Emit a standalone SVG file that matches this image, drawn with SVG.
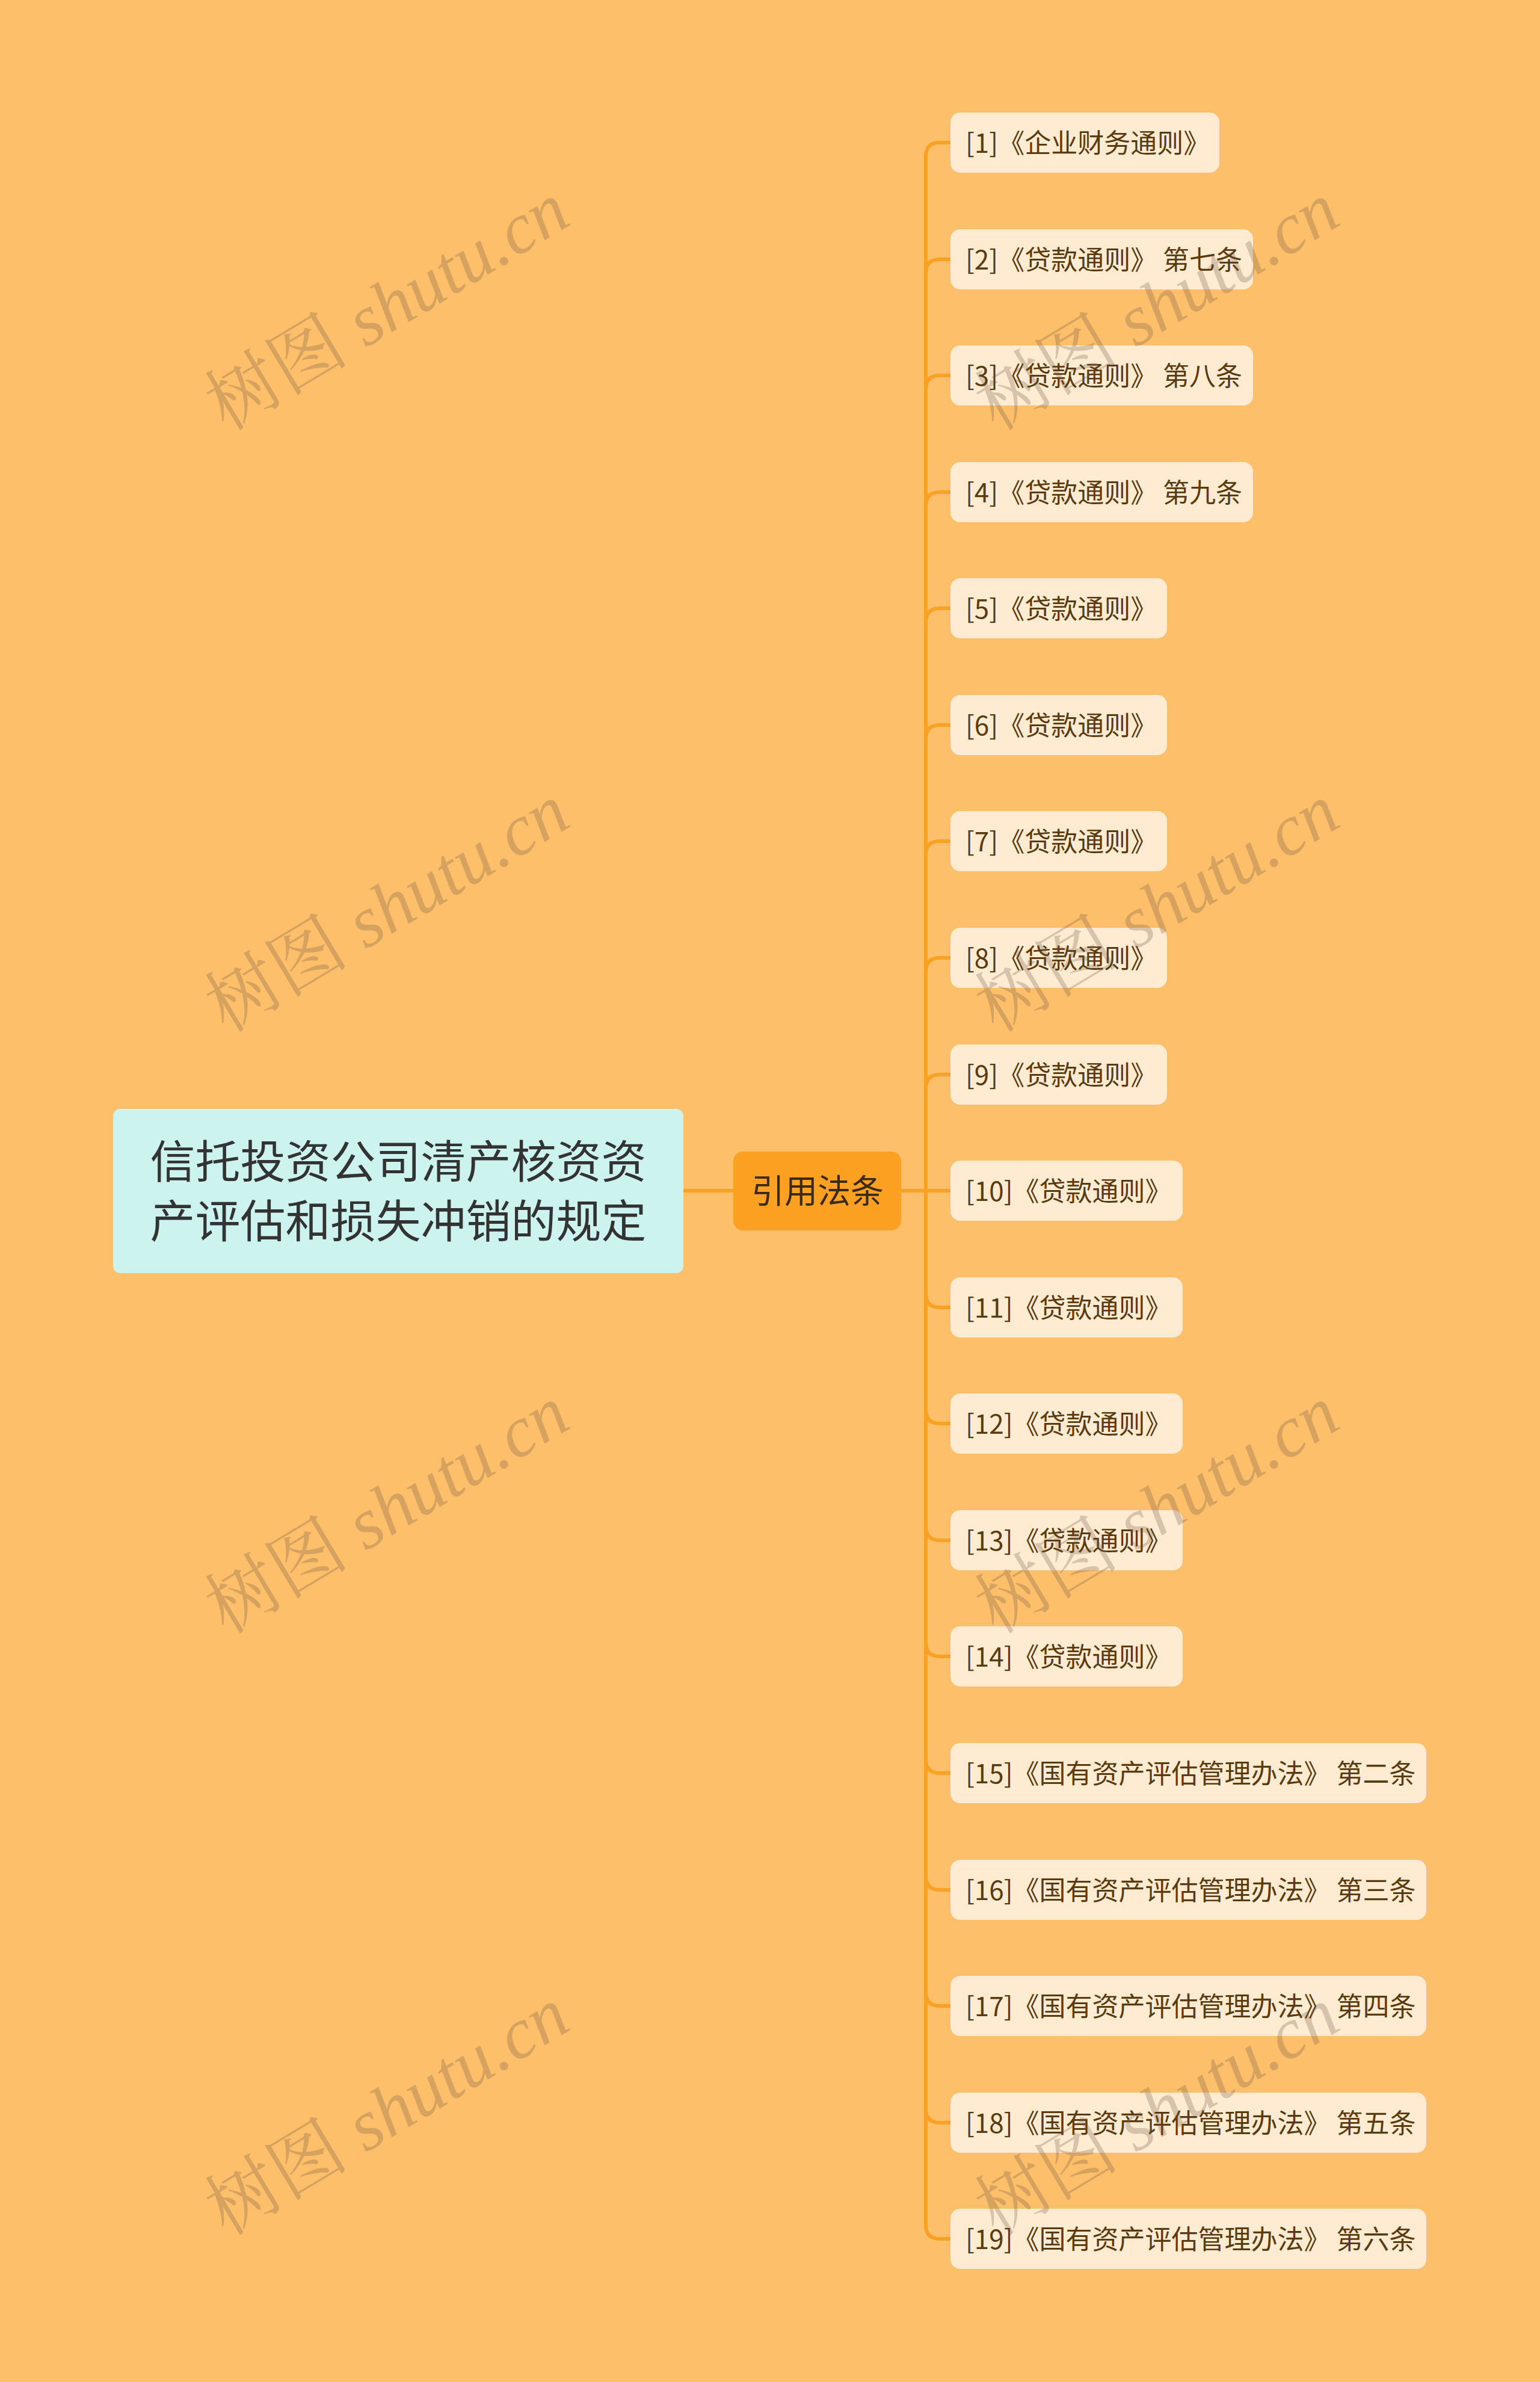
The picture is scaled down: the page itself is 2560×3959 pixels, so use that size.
<svg xmlns="http://www.w3.org/2000/svg" width="2560" height="3959" viewBox="0 0 2560 3959">
<style>
.bg{fill:#FEBF6B}
.root{fill:#CDF3EF}
.mid{fill:#FBA021}
.leaf{fill:#FFEBD1}
.t{font-family:"Noto Sans CJK SC","Noto Sans",sans-serif}
.rt{font-size:75px;fill:#333333;text-anchor:middle}
.mt{font-size:55px;fill:#3A2A10;text-anchor:middle}
.lt{font-size:44px;fill:#5C3A0E}
.c{fill:none;stroke:#F8A122;stroke-width:6}
.wm{font-size:120px;fill:rgb(100,80,60);opacity:0.25;text-anchor:middle}
.wm1{font-family:"Noto Serif CJK SC","Noto Sans CJK SC",serif}
.wm2{font-family:"Liberation Serif",serif;font-style:italic}
</style>
<rect class="bg" x="0" y="0" width="2560" height="3959"/>
<g id="connectors">
<path class="c" d="M1136,1979 L1219,1979"/>
<path class="c" d="M1498,1979 L1539,1979 L1539,260 Q1539,237 1562,237 L1580,237"/>
<path class="c" d="M1539,1979 L1539,454 Q1539,431 1562,431 L1580,431"/>
<path class="c" d="M1539,1979 L1539,647 Q1539,624 1562,624 L1580,624"/>
<path class="c" d="M1539,1979 L1539,841 Q1539,818 1562,818 L1580,818"/>
<path class="c" d="M1539,1979 L1539,1034 Q1539,1011 1562,1011 L1580,1011"/>
<path class="c" d="M1539,1979 L1539,1228 Q1539,1205 1562,1205 L1580,1205"/>
<path class="c" d="M1539,1979 L1539,1421 Q1539,1398 1562,1398 L1580,1398"/>
<path class="c" d="M1539,1979 L1539,1615 Q1539,1592 1562,1592 L1580,1592"/>
<path class="c" d="M1539,1979 L1539,1809 Q1539,1786 1562,1786 L1580,1786"/>
<path class="c" d="M1539,1979 L1580,1979"/>
<path class="c" d="M1539,1979 L1539,2150 Q1539,2173 1562,2173 L1580,2173"/>
<path class="c" d="M1539,1979 L1539,2343 Q1539,2366 1562,2366 L1580,2366"/>
<path class="c" d="M1539,1979 L1539,2537 Q1539,2560 1562,2560 L1580,2560"/>
<path class="c" d="M1539,1979 L1539,2730 Q1539,2753 1562,2753 L1580,2753"/>
<path class="c" d="M1539,1979 L1539,2924 Q1539,2947 1562,2947 L1580,2947"/>
<path class="c" d="M1539,1979 L1539,3118 Q1539,3141 1562,3141 L1580,3141"/>
<path class="c" d="M1539,1979 L1539,3311 Q1539,3334 1562,3334 L1580,3334"/>
<path class="c" d="M1539,1979 L1539,3505 Q1539,3528 1562,3528 L1580,3528"/>
<path class="c" d="M1539,1979 L1539,3698 Q1539,3721 1562,3721 L1580,3721"/>
</g>
<g id="root">
<rect class="root" x="188" y="1843" width="948" height="273" rx="12"/>
<text class="t rt" x="662" y="1958">信托投资公司清产核资资</text>
<text class="t rt" x="662" y="2057">产评估和损失冲销的规定</text>
</g>
<g id="mid">
<rect class="mid" x="1219" y="1914" width="279" height="131" rx="16"/>
<text class="t mt" x="1359" y="1999">引用法条</text>
</g>
<g id="leaf1"><rect class="leaf" x="1580" y="187" width="447" height="100" rx="16"/><text class="t lt" x="1605" y="254">[1]《企业财务通则》</text></g>
<g id="leaf2"><rect class="leaf" x="1580" y="381" width="503" height="100" rx="16"/><text class="t lt" x="1605" y="448">[2]《贷款通则》 第七条</text></g>
<g id="leaf3"><rect class="leaf" x="1580" y="574" width="503" height="100" rx="16"/><text class="t lt" x="1605" y="641">[3]《贷款通则》 第八条</text></g>
<g id="leaf4"><rect class="leaf" x="1580" y="768" width="503" height="100" rx="16"/><text class="t lt" x="1605" y="835">[4]《贷款通则》 第九条</text></g>
<g id="leaf5"><rect class="leaf" x="1580" y="961" width="360" height="100" rx="16"/><text class="t lt" x="1605" y="1028">[5]《贷款通则》</text></g>
<g id="leaf6"><rect class="leaf" x="1580" y="1155" width="360" height="100" rx="16"/><text class="t lt" x="1605" y="1222">[6]《贷款通则》</text></g>
<g id="leaf7"><rect class="leaf" x="1580" y="1348" width="360" height="100" rx="16"/><text class="t lt" x="1605" y="1415">[7]《贷款通则》</text></g>
<g id="leaf8"><rect class="leaf" x="1580" y="1542" width="360" height="100" rx="16"/><text class="t lt" x="1605" y="1609">[8]《贷款通则》</text></g>
<g id="leaf9"><rect class="leaf" x="1580" y="1736" width="360" height="100" rx="16"/><text class="t lt" x="1605" y="1803">[9]《贷款通则》</text></g>
<g id="leaf10"><rect class="leaf" x="1580" y="1929" width="386" height="100" rx="16"/><text class="t lt" x="1605" y="1996">[10]《贷款通则》</text></g>
<g id="leaf11"><rect class="leaf" x="1580" y="2123" width="386" height="100" rx="16"/><text class="t lt" x="1605" y="2190">[11]《贷款通则》</text></g>
<g id="leaf12"><rect class="leaf" x="1580" y="2316" width="386" height="100" rx="16"/><text class="t lt" x="1605" y="2383">[12]《贷款通则》</text></g>
<g id="leaf13"><rect class="leaf" x="1580" y="2510" width="386" height="100" rx="16"/><text class="t lt" x="1605" y="2577">[13]《贷款通则》</text></g>
<g id="leaf14"><rect class="leaf" x="1580" y="2703" width="386" height="100" rx="16"/><text class="t lt" x="1605" y="2770">[14]《贷款通则》</text></g>
<g id="leaf15"><rect class="leaf" x="1580" y="2897" width="791" height="100" rx="16"/><text class="t lt" x="1605" y="2964">[15]《国有资产评估管理办法》 第二条</text></g>
<g id="leaf16"><rect class="leaf" x="1580" y="3091" width="791" height="100" rx="16"/><text class="t lt" x="1605" y="3158">[16]《国有资产评估管理办法》 第三条</text></g>
<g id="leaf17"><rect class="leaf" x="1580" y="3284" width="791" height="100" rx="16"/><text class="t lt" x="1605" y="3351">[17]《国有资产评估管理办法》 第四条</text></g>
<g id="leaf18"><rect class="leaf" x="1580" y="3478" width="791" height="100" rx="16"/><text class="t lt" x="1605" y="3545">[18]《国有资产评估管理办法》 第五条</text></g>
<g id="leaf19"><rect class="leaf" x="1580" y="3671" width="791" height="100" rx="16"/><text class="t lt" x="1605" y="3738">[19]《国有资产评估管理办法》 第六条</text></g>
<g id="watermarks">
<text class="wm" transform="translate(644,510) rotate(-31)" y="40"><tspan class="wm1">树图</tspan><tspan class="wm2"> shutu.cn</tspan></text>
<text class="wm" transform="translate(1924,510) rotate(-31)" y="40"><tspan class="wm1">树图</tspan><tspan class="wm2"> shutu.cn</tspan></text>
<text class="wm" transform="translate(644,1510) rotate(-31)" y="40"><tspan class="wm1">树图</tspan><tspan class="wm2"> shutu.cn</tspan></text>
<text class="wm" transform="translate(1924,1510) rotate(-31)" y="40"><tspan class="wm1">树图</tspan><tspan class="wm2"> shutu.cn</tspan></text>
<text class="wm" transform="translate(644,2510) rotate(-31)" y="40"><tspan class="wm1">树图</tspan><tspan class="wm2"> shutu.cn</tspan></text>
<text class="wm" transform="translate(1924,2510) rotate(-31)" y="40"><tspan class="wm1">树图</tspan><tspan class="wm2"> shutu.cn</tspan></text>
<text class="wm" transform="translate(644,3510) rotate(-31)" y="40"><tspan class="wm1">树图</tspan><tspan class="wm2"> shutu.cn</tspan></text>
<text class="wm" transform="translate(1924,3510) rotate(-31)" y="40"><tspan class="wm1">树图</tspan><tspan class="wm2"> shutu.cn</tspan></text>
</g>
</svg>
